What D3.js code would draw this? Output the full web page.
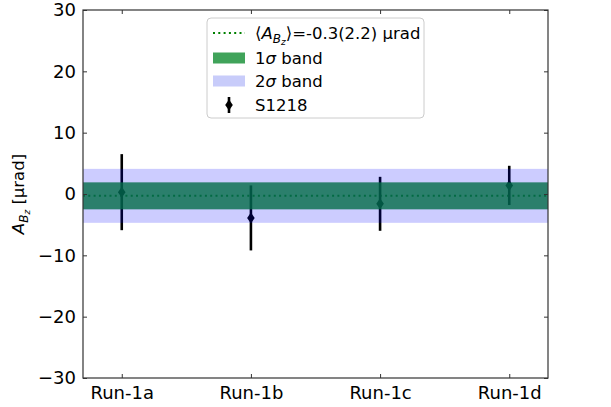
<!DOCTYPE html>
<html>
<head>
<meta charset="utf-8">
<script src="https://cdn.jsdelivr.net/npm/d3@7"></script>
<style>
  body { margin: 0; background: #fff; }
  svg text { font-family: "DejaVu Sans", sans-serif; }
</style>
</head>
<body>
<div id="viz"></div>
<script>
// data
const runs = ["Run-1a", "Run-1b", "Run-1c", "Run-1d"];
const values = [0.3, -3.9, -1.6, 1.4];
const errors = [6.2, 5.3, 4.4, 3.2];
const meanValue = -0.3;
const meanError = 2.2;
const yTicks = [-30, -20, -10, 0, 10, 20, 30];

const width = 611, height = 407;
const margin = { left: 83, right: 63, top: 10, bottom: 29 };

const svg = d3.select("#viz").append("svg")
  .attr("width", width).attr("height", height);

const x = d3.scaleLinear().domain([-0.3, 3.3])
  .range([margin.left, width - margin.right]);
const y = d3.scaleLinear().domain([-30, 30])
  .range([height - margin.bottom, margin.top]);

const x0 = x.range()[0], x1 = x.range()[1];

// mean line (under the bands)
svg.append("line")
  .attr("x1", x0).attr("x2", x1)
  .attr("y1", y(meanValue)).attr("y2", y(meanValue))
  .attr("stroke", "#008000").attr("stroke-width", 2)
  .attr("stroke-dasharray", "2,3.3");

// error bars and markers
const pts = svg.append("g").selectAll("g").data(runs).enter().append("g");
pts.append("line")
  .attr("x1", (d, i) => x(i)).attr("x2", (d, i) => x(i))
  .attr("y1", (d, i) => y(values[i] + errors[i]))
  .attr("y2", (d, i) => y(values[i] - errors[i]))
  .attr("stroke", "#000").attr("stroke-width", 2.6);
const diamond = "M0,-5.5L3.8,0L0,5.5L-3.8,0Z";
pts.append("path")
  .attr("d", diamond)
  .attr("transform", (d, i) => `translate(${x(i)},${y(values[i])})`)
  .attr("fill", "#000");

// 2 sigma band
svg.append("rect")
  .attr("x", x0).attr("width", x1 - x0)
  .attr("y", y(meanValue + 2 * meanError))
  .attr("height", y(meanValue - 2 * meanError) - y(meanValue + 2 * meanError))
  .attr("fill", "#0000ff").attr("fill-opacity", 0.2);

// 1 sigma band
svg.append("rect")
  .attr("x", x0).attr("width", x1 - x0)
  .attr("y", y(meanValue + meanError))
  .attr("height", y(meanValue - meanError) - y(meanValue + meanError))
  .attr("fill", "#036c47").attr("fill-opacity", 0.8);

// axes with inward ticks on all sides
const axisColor = "#333";
function styleAxis(g) {
  g.select(".domain").remove();
  g.selectAll(".tick line").attr("stroke", axisColor);
  g.selectAll(".tick text").attr("fill", "#000").style("font-size", "18px");
}
svg.append("g").attr("transform", `translate(${x0},0)`)
  .call(d3.axisLeft(y).tickValues(yTicks).tickSizeInner(-4).tickPadding(7)
    .tickFormat(d => d < 0 ? "\u2212" + Math.abs(d) : d))
  .call(styleAxis);
svg.append("g").attr("transform", `translate(${x1},0)`)
  .call(d3.axisRight(y).tickValues(yTicks).tickSizeInner(-4).tickFormat(""))
  .call(styleAxis);
svg.append("g").attr("transform", `translate(0,${y.range()[0]})`)
  .call(d3.axisBottom(x).tickValues(d3.range(runs.length)).tickSizeInner(-4)
    .tickPadding(8).tickFormat(i => runs[i]))
  .call(styleAxis);
svg.append("g").attr("transform", `translate(0,${y.range()[1]})`)
  .call(d3.axisTop(x).tickValues(d3.range(runs.length)).tickSizeInner(-4).tickFormat(""))
  .call(styleAxis);

// frame
svg.append("rect")
  .attr("x", x0).attr("y", y.range()[1])
  .attr("width", x1 - x0).attr("height", y.range()[0] - y.range()[1])
  .attr("fill", "none").attr("stroke", axisColor).attr("stroke-width", 1.2);

// y label
const yl = svg.append("text")
  .attr("transform", `translate(24,${y(0)}) rotate(-90)`)
  .attr("text-anchor", "middle").style("font-size", "16.5px");
yl.append("tspan").attr("font-style", "italic").text("A");
yl.append("tspan").attr("font-style", "italic").attr("dy", 4).style("font-size", "12px").text("B");
yl.append("tspan").attr("font-style", "italic").attr("dy", 2).style("font-size", "9px").text("z");
yl.append("tspan").attr("dy", -6).text(" [\u00b5rad]");

// legend
const lg = svg.append("g").attr("transform", "translate(207,18)");
lg.append("rect").attr("width", 217).attr("height", 100).attr("rx", 4)
  .attr("fill", "#fff").attr("fill-opacity", 0.85)
  .attr("stroke", "#ccc");
const rowY = [15, 40, 63, 87];
lg.append("line").attr("x1", 6).attr("x2", 38).attr("y1", rowY[0]).attr("y2", rowY[0])
  .attr("stroke", "#008000").attr("stroke-width", 2).attr("stroke-dasharray", "2,3.3");
lg.append("rect").attr("x", 6).attr("y", rowY[1] - 5.5).attr("width", 32).attr("height", 11)
  .attr("fill", "#40a35a");
lg.append("rect").attr("x", 6).attr("y", rowY[2] - 5.5).attr("width", 32).attr("height", 11)
  .attr("fill", "#c8ccfa");
lg.append("line").attr("x1", 22).attr("x2", 22).attr("y1", rowY[3] - 8).attr("y2", rowY[3] + 8)
  .attr("stroke", "#000").attr("stroke-width", 2.6);
lg.append("path").attr("d", diamond).attr("transform", `translate(22,${rowY[3]})`).attr("fill", "#000");

const tx = 48;
const fs = "16.5px";
const t0 = lg.append("text").attr("x", tx).attr("y", rowY[0] + 6).style("font-size", fs);
t0.append("tspan").text("\u27e8");
t0.append("tspan").attr("font-style", "italic").text("A");
t0.append("tspan").attr("font-style", "italic").attr("dy", 4).style("font-size", "12px").text("B");
t0.append("tspan").attr("font-style", "italic").attr("dy", 2).style("font-size", "9px").text("z");
t0.append("tspan").attr("dy", -6).text("\u27e9=-0.3(2.2) \u00b5rad");

const t1 = lg.append("text").attr("x", tx).attr("y", rowY[1] + 6).style("font-size", fs);
t1.append("tspan").text("1");
t1.append("tspan").attr("font-style", "italic").text("\u03c3");
t1.append("tspan").text(" band");
const t2 = lg.append("text").attr("x", tx).attr("y", rowY[2] + 6).style("font-size", fs);
t2.append("tspan").text("2");
t2.append("tspan").attr("font-style", "italic").text("\u03c3");
t2.append("tspan").text(" band");
lg.append("text").attr("x", tx).attr("y", rowY[3] + 6).style("font-size", fs).text("S1218");
</script>
</body>
</html>
